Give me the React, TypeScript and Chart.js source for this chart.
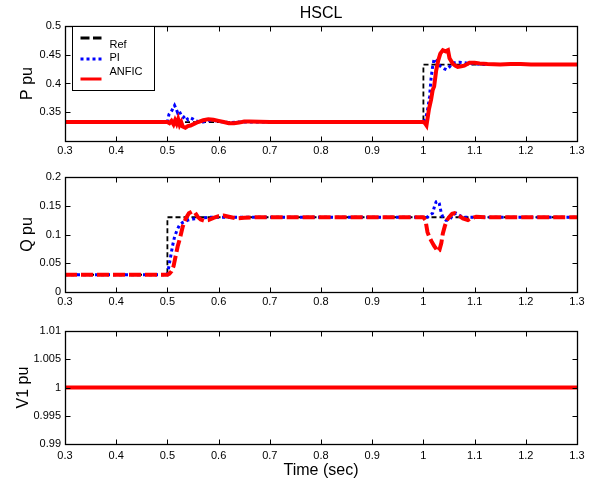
import React, { useEffect, useRef } from 'react';
import { Chart, registerables } from 'chart.js';
Chart.register(...registerables);

const FONT = "'Liberation Sans', Arial, Helvetica, sans-serif";

// ---------- shared axis ticks ----------
const xTickValues = [0.3, 0.4, 0.5, 0.6, 0.7, 0.8, 0.9, 1.0, 1.1, 1.2, 1.3];
const xTickLabels = ['0.3', '0.4', '0.5', '0.6', '0.7', '0.8', '0.9', '1', '1.1', '1.2', '1.3'];

const pTickValues = [0.3, 0.35, 0.4, 0.45, 0.5];
const pTickLabels = ['', '0.35', '0.4', '0.45', '0.5'];
const qTickValues = [0, 0.05, 0.1, 0.15, 0.2];
const qTickLabels = ['0', '0.05', '0.1', '0.15', '0.2'];
const vTickValues = [0.99, 0.995, 1.0, 1.005, 1.01];
const vTickLabels = ['0.99', '0.995', '1', '1.005', '1.01'];

const seriesNames = ['Ref', 'PI', 'ANFIC'];

// ---------- P (active power) ----------
const pRefTime = [0.3, 1.0, 1.0, 1.3];
const pRef = [0.333, 0.333, 0.433, 0.433];

const pPiTime = [0.3, 0.5, 0.503, 0.507, 0.511, 0.514, 0.517, 0.52, 0.523, 0.527, 0.531, 0.535, 0.54, 0.545, 0.55, 0.555, 0.56, 0.57, 0.58, 0.59, 0.6, 0.61, 0.62, 0.64, 0.7, 1.0, 1.004, 1.008, 1.012, 1.015, 1.018, 1.021, 1.025, 1.028, 1.032, 1.036, 1.04, 1.045, 1.05, 1.055, 1.06, 1.07, 1.08, 1.09, 1.1, 1.12, 1.3];
const pPi = [0.333, 0.333, 0.346, 0.35, 0.357, 0.362, 0.356, 0.349, 0.352, 0.345, 0.341, 0.344, 0.337, 0.340, 0.338, 0.335, 0.334, 0.333, 0.335, 0.336, 0.334, 0.333, 0.332, 0.333, 0.333, 0.333, 0.338, 0.353, 0.377, 0.409, 0.429, 0.443, 0.440, 0.436, 0.431, 0.428, 0.426, 0.424, 0.428, 0.433, 0.436, 0.437, 0.436, 0.435, 0.434, 0.433, 0.433];

const pAnficTime = [0.3, 0.5, 0.504, 0.508, 0.512, 0.515, 0.518, 0.521, 0.524, 0.527, 0.53, 0.535, 0.54, 0.545, 0.55, 0.555, 0.56, 0.57, 0.58, 0.59, 0.6, 0.61, 0.62, 0.63, 0.64, 0.65, 0.66, 0.7, 1.0, 1.003, 1.006, 1.011, 1.015, 1.018, 1.021, 1.025, 1.029, 1.033, 1.038, 1.043, 1.048, 1.051, 1.057, 1.062, 1.067, 1.074, 1.08, 1.09, 1.1, 1.11, 1.125, 1.15, 1.17, 1.19, 1.21, 1.3];
const pAnfic = [0.333, 0.333, 0.331, 0.335, 0.329, 0.336, 0.330, 0.338, 0.328, 0.333, 0.325, 0.323, 0.326, 0.327, 0.329, 0.331, 0.333, 0.336, 0.338, 0.337, 0.335, 0.333, 0.331, 0.331, 0.332, 0.334, 0.334, 0.333, 0.333, 0.331, 0.327, 0.356, 0.372, 0.388, 0.395, 0.423, 0.440, 0.452, 0.458, 0.456, 0.458, 0.444, 0.435, 0.431, 0.429, 0.430, 0.431, 0.436, 0.436, 0.435, 0.434, 0.433, 0.434, 0.434, 0.433, 0.433];

// ---------- Q (reactive power) ----------
const qRefTime = [0.3, 0.5, 0.5, 1.3];
const qRef = [0.03, 0.03, 0.13, 0.13];

const qPiTime = [0.3, 0.5, 0.504, 0.507, 0.51, 0.514, 0.519, 0.524, 0.53, 0.54, 0.55, 0.56, 0.58, 0.6, 1.0, 1.008, 1.012, 1.018, 1.022, 1.025, 1.028, 1.031, 1.035, 1.038, 1.044, 1.051, 1.057, 1.064, 1.077, 1.3];
const qPi = [0.03, 0.03, 0.05, 0.065, 0.08, 0.096, 0.108, 0.117, 0.121, 0.125, 0.127, 0.128, 0.13, 0.13, 0.13, 0.13, 0.134, 0.137, 0.15, 0.157, 0.158, 0.154, 0.137, 0.13, 0.125, 0.125, 0.134, 0.137, 0.13, 0.13];

const qAnficTime = [0.3, 0.5, 0.504, 0.508, 0.512, 0.516, 0.52, 0.525, 0.53, 0.536, 0.542, 0.548, 0.553, 0.559, 0.565, 0.572, 0.58, 0.59, 0.6, 0.61, 0.62, 0.635, 0.65, 0.67, 1.0, 1.004, 1.008, 1.012, 1.016, 1.021, 1.025, 1.028, 1.031, 1.035, 1.038, 1.042, 1.046, 1.051, 1.056, 1.061, 1.067, 1.072, 1.077, 1.087, 1.093, 1.103, 1.12, 1.3];
const qAnfic = [0.03, 0.03, 0.032, 0.036, 0.045, 0.062, 0.079, 0.095, 0.114, 0.128, 0.137, 0.140, 0.139, 0.131, 0.126, 0.124, 0.125, 0.129, 0.132, 0.133, 0.131, 0.128, 0.129, 0.13, 0.13, 0.125, 0.104, 0.095, 0.088, 0.08, 0.075, 0.07, 0.072, 0.085, 0.102, 0.115, 0.125, 0.131, 0.136, 0.137, 0.134, 0.131, 0.128, 0.125, 0.128, 0.131, 0.13, 0.13];

// ---------- V1 (voltage) ----------
const vTime = [0.3, 1.3];
const vRef = [1.0, 1.0];
const vPi = [1.0, 1.0];
const vAnfic = [1.0, 1.0];

const toPts = (t: number[], v: number[]) => t.map((x, i) => ({ x, y: v[i] }));

type Spec = {
  refT: number[]; ref: number[];
  piT: number[]; pi: number[];
  anT: number[]; an: number[];
  anDash: number[];
  yMin: number; yMax: number;
  yTicks: number[]; yLabels: string[];
  yTitle: string; yTitlePad: number;
  padTop: number; xH: number; xPad: number;
  xTitle?: string;
  legend?: boolean; title?: string;
};

function framePlugin(spec: Spec) {
  return {
    id: 'matlabFrame',
    afterDatasetsDraw(chart: any) {
      const { ctx, chartArea: a, scales } = chart;
      const xs = scales.x, ys = scales.y;
      const L = Math.round(a.left) + 0.5, R = Math.round(a.right) + 0.5;
      const T = Math.round(a.top) + 0.5, B = Math.round(a.bottom) + 0.5;
      ctx.save();
      ctx.strokeStyle = '#000';
      ctx.lineWidth = 1;
      ctx.setLineDash([]);
      ctx.beginPath();
      const tl = 5;
      for (const t of xs.ticks) {
        const px = Math.round(xs.getPixelForValue(t.value)) + 0.5;
        ctx.moveTo(px, B); ctx.lineTo(px, B - tl);
        ctx.moveTo(px, T); ctx.lineTo(px, T + tl);
      }
      for (const t of ys.ticks) {
        const py = Math.round(ys.getPixelForValue(t.value)) + 0.5;
        ctx.moveTo(L, py); ctx.lineTo(L + tl, py);
        ctx.moveTo(R, py); ctx.lineTo(R - tl, py);
      }
      ctx.stroke();
      ctx.lineWidth = 1.3;
      ctx.strokeRect(L, T, R - L, B - T);

      if (spec.title) {
        ctx.fillStyle = '#000';
        ctx.font = `16px ${FONT}`;
        ctx.textAlign = 'center';
        ctx.textBaseline = 'alphabetic';
        ctx.fillText(spec.title, (a.left + a.right) / 2, 18);
      }

      if (spec.legend) {
        const bx = L + 7, by = T, bw = 82, bh = 64;
        ctx.fillStyle = '#fff';
        ctx.fillRect(bx, by, bw, bh);
        ctx.lineWidth = 1;
        ctx.strokeStyle = '#000';
        ctx.strokeRect(bx, by, bw, bh);
        const x0 = bx + 8, x1 = bx + 29, tx = bx + 37;
        const drawSample = (y: number, color: string, w: number, dash: number[]) => {
          ctx.save();
          ctx.strokeStyle = color; ctx.lineWidth = w; ctx.setLineDash(dash);
          ctx.beginPath(); ctx.moveTo(x0, y); ctx.lineTo(x1, y); ctx.stroke();
          ctx.restore();
        };
        drawSample(by + 11.5, '#000', 3, [9, 3.5]);
        drawSample(by + 32.5, '#0000ff', 3, [3, 3]);
        drawSample(by + 52.5, '#ff0000', 3, []);
        ctx.fillStyle = '#000';
        ctx.font = `11px ${FONT}`;
        ctx.textAlign = 'left';
        ctx.textBaseline = 'middle';
        ctx.fillText(seriesNames[0], tx, by + 18);
        ctx.fillText(seriesNames[1], tx, by + 31);
        ctx.fillText(seriesNames[2], tx, by + 45.5);
      }
      ctx.restore();
    },
  };
}

function makeConfig(spec: Spec): any {
  const tickFont = { family: FONT, size: 11 };
  return {
    type: 'line',
    data: {
      datasets: [
        { label: seriesNames[2], data: toPts(spec.anT, spec.an), borderColor: '#ff0000', borderWidth: 4, borderDash: spec.anDash, pointRadius: 0, tension: 0, fill: false },
        { label: seriesNames[1], data: toPts(spec.piT, spec.pi), borderColor: '#0000ff', borderWidth: 3, borderDash: [3, 3], pointRadius: 0, tension: 0, fill: false },
        { label: seriesNames[0], data: toPts(spec.refT, spec.ref), borderColor: '#000000', borderWidth: 1.8, borderDash: [5, 3], pointRadius: 0, tension: 0, fill: false },
      ],
    },
    options: {
      animation: false,
      responsive: false,
      devicePixelRatio: 1,
      events: [],
      layout: { padding: { top: spec.padTop, right: 21, left: 0, bottom: 0 } },
      plugins: { legend: { display: false }, tooltip: { enabled: false }, title: { display: false } },
      scales: {
        x: {
          type: 'linear', position: 'bottom', min: 0.3, max: 1.3,
          afterBuildTicks: (s: any) => { s.ticks = xTickValues.map((v) => ({ value: v })); },
          ticks: { color: '#000', font: tickFont, padding: spec.xPad, maxRotation: 0, autoSkip: false, callback: (_v: any, i: number) => xTickLabels[i] },
          grid: { display: false, drawTicks: false },
          border: { display: false },
          title: spec.xTitle ? { display: true, text: spec.xTitle, color: '#000', font: { family: FONT, size: 16 }, padding: { top: 0, bottom: 5 } } : { display: false },
          afterFit: (s: any) => { s.height = spec.xH; },
        },
        y: {
          type: 'linear', position: 'left', min: spec.yMin, max: spec.yMax,
          afterBuildTicks: (s: any) => { s.ticks = spec.yTicks.map((v) => ({ value: v })); },
          ticks: { color: '#000', font: tickFont, padding: 4, autoSkip: false, callback: (_v: any, i: number) => spec.yLabels[i] },
          grid: { display: false, drawTicks: false },
          border: { display: false },
          title: { display: true, text: spec.yTitle, color: '#000', font: { family: FONT, size: 16 }, padding: { top: spec.yTitlePad, bottom: 0 } },
          afterFit: (s: any) => { s.width = 65; },
        },
      },
    },
    plugins: [framePlugin(spec)],
  };
}

const specs: { top: number; height: number; spec: Spec }[] = [
  {
    top: 0, height: 165,
    spec: {
      refT: pRefTime, ref: pRef, piT: pPiTime, pi: pPi, anT: pAnficTime, an: pAnfic, anDash: [],
      yMin: 0.3, yMax: 0.5, yTicks: pTickValues, yLabels: pTickLabels,
      yTitle: 'P pu', yTitlePad: 17.5, padTop: 26, xH: 24, xPad: 3, legend: true, title: 'HSCL',
    },
  },
  {
    top: 165, height: 150,
    spec: {
      refT: qRefTime, ref: qRef, piT: qPiTime, pi: qPi, anT: qAnficTime, an: qAnfic, anDash: [12, 4],
      yMin: 0, yMax: 0.2, yTicks: qTickValues, yLabels: qTickLabels,
      yTitle: 'Q pu', yTitlePad: 17.5, padTop: 12, xH: 23, xPad: 3,
    },
  },
  {
    top: 315, height: 170,
    spec: {
      refT: vTime, ref: vRef, piT: vTime, pi: vPi, anT: vTime, an: vAnfic, anDash: [],
      yMin: 0.99, yMax: 1.01, yTicks: vTickValues, yLabels: vTickLabels,
      yTitle: 'V1 pu', yTitlePad: 13.5, padTop: 16, xH: 41, xPad: 5, xTitle: 'Time (sec)',
    },
  },
];

export default function App() {
  const refs = [useRef<HTMLCanvasElement>(null), useRef<HTMLCanvasElement>(null), useRef<HTMLCanvasElement>(null)];
  useEffect(() => {
    const charts = specs.map((s, i) => new Chart(refs[i].current as HTMLCanvasElement, makeConfig(s.spec)));
    return () => charts.forEach((c) => c.destroy());
  }, []);
  return (
    <div style={{ position: 'absolute', left: 0, top: 0, width: 598, height: 485, background: '#fff' }}>
      {specs.map((s, i) => (
        <canvas
          key={i}
          ref={refs[i]}
          width={598}
          height={s.height}
          style={{ position: 'absolute', left: 0, top: s.top, width: 598, height: s.height }}
        />
      ))}
    </div>
  );
}
